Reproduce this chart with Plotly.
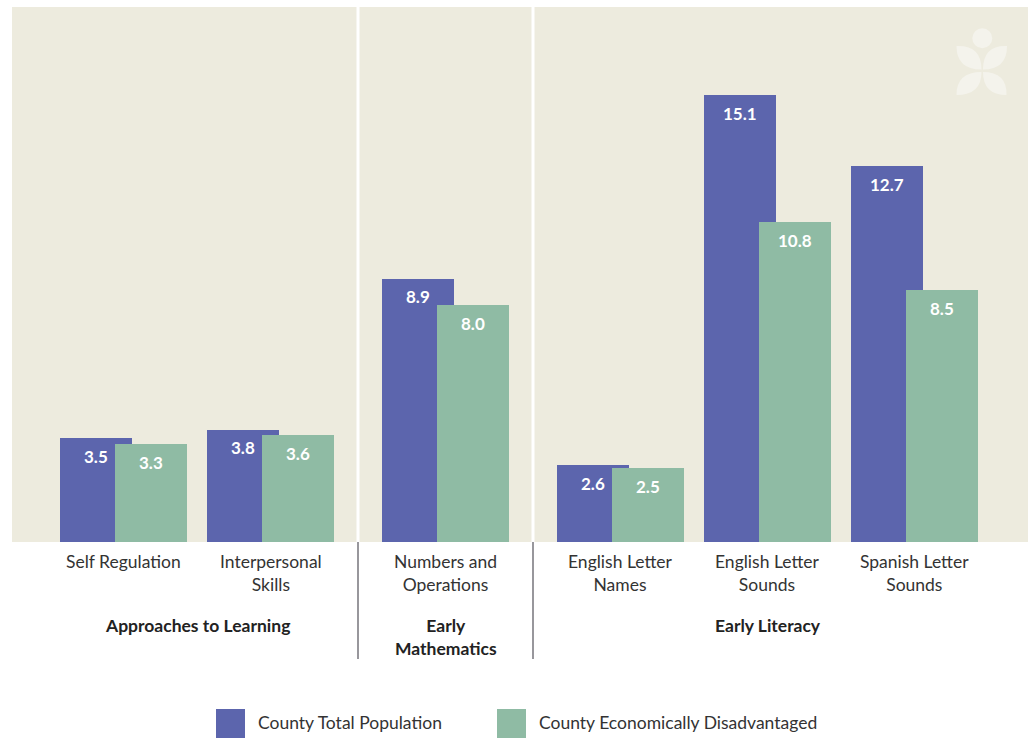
import plotly.graph_objects as go

# ---- data -------------------------------------------------------------
groups = ["Approaches to Learning", "Early<br>Mathematics", "Early Literacy"]
categories = [
    "Self Regulation",
    "Interpersonal<br>Skills",
    "Numbers and<br>Operations",
    "English Letter<br>Names",
    "English Letter<br>Sounds",
    "Spanish Letter<br>Sounds",
]
category_group = [0, 0, 1, 2, 2, 2]
series_names = ["County Total Population", "County Economically Disadvantaged"]
total_population = [3.5, 3.8, 8.9, 2.6, 15.1, 12.7]
econ_disadvantaged = [3.3, 3.6, 8.0, 2.5, 10.8, 8.5]

# ---- styling ----------------------------------------------------------
W, H = 1034, 738
ML, MR, MT, MB = 12, 6, 7, 196
PLOT_W = W - ML - MR
PLOT_H = H - MT - MB
BLUE = "#5C65AD"
GREEN = "#8FBBA4"
PANEL = "#EDEBDE"
FONT = "Lato"

STEP_IN = 147.0      # spacing between categories inside a group
STEP_OUT = 175.0     # spacing across a group boundary
FIRST = 111.5
BAR_W = 72
OFFSETS = [-63.5, -8.5]

# slot centres along the x axis
centres = [FIRST]
for i in range(1, len(categories)):
    same = category_group[i] == category_group[i - 1]
    centres.append(centres[-1] + (STEP_IN if same else STEP_OUT))

Y_MAX = PLOT_H / 29.6


def px_to_paper(px, py):
    return (px - ML) / PLOT_W, (H - MB - py) / PLOT_H


fig = go.Figure()
colors = [BLUE, GREEN]
for name, vals, col, off in zip(series_names, [total_population, econ_disadvantaged], colors, OFFSETS):
    fig.add_trace(go.Bar(
        x=centres, y=vals, name=name, width=BAR_W, offset=off,
        marker=dict(color=col, line=dict(width=0)),
        showlegend=False, hoverinfo="x+y",
    ))

annotations = []
shapes = []

# value labels inside the bar tops
for vals, off in zip([total_population, econ_disadvantaged], OFFSETS):
    for c, v in zip(centres, vals):
        annotations.append(dict(
            x=c + off + BAR_W / 2, y=v, xref="x", yref="y", yshift=-18,
            text=f"{v:.1f}", showarrow=False,
            font=dict(family=FONT, size=17, color="white", weight="bold"),
        ))

# category labels
for c, lab in zip(centres, categories):
    annotations.append(dict(
        x=c, y=0, xref="x", yref="paper", yanchor="top", yshift=-7,
        text=lab, showarrow=False, align="center",
        font=dict(family=FONT, size=17.5, color="#333333"),
    ))

# group labels and separators
for g, gname in enumerate(groups):
    members = [centres[i] for i in range(len(centres)) if category_group[i] == g]
    mid = (members[0] + members[-1]) / 2
    annotations.append(dict(
        x=mid, y=0, xref="x", yref="paper", yanchor="top", yshift=-71,
        text=f"<b>{gname}</b>", showarrow=False, align="center",
        font=dict(family=FONT, size=17.5, color="#222222"),
    ))
    if g > 0:
        prev_last = max(centres[i] for i in range(len(centres)) if category_group[i] == g - 1)
        sep = (prev_last + members[0]) / 2
        shapes.append(dict(type="line", xref="x", yref="paper", x0=sep, x1=sep, y0=0, y1=1,
                           line=dict(color="white", width=3), layer="above"))
        shapes.append(dict(type="line", xref="x", yref="paper", x0=sep, x1=sep, y0=0,
                           y1=px_to_paper(0, 659)[1],
                           line=dict(color="#98979C", width=2)))

# legend drawn as large swatches
legend_items = [(216, series_names[0], BLUE), (497, series_names[1], GREEN)]
for x0, name, col in legend_items:
    a0, b0 = px_to_paper(x0, 738)
    a1, b1 = px_to_paper(x0 + 29, 709)
    shapes.append(dict(type="rect", xref="paper", yref="paper", x0=a0, x1=a1, y0=b0, y1=b1,
                       fillcolor=col, line=dict(width=0)))
    tx, ty = px_to_paper(x0 + 40, 722.5)
    annotations.append(dict(
        x=tx, y=ty, xref="paper", yref="paper", xanchor="left", yanchor="middle",
        text=name, showarrow=False, font=dict(family=FONT, size=17.5, color="#333333"),
    ))

# flower emblem in the top-right corner
EMBLEM = "#F4F3EC"


def petal(p0, c1, p1, c2):
    pts = [px_to_paper(*p) for p in (p0, c1, p1, c2)]
    (a, b), (c, d), (e, f), (g, h) = pts
    return f"M {a},{b} Q {c},{d} {e},{f} Q {g},{h} {a},{b} Z"


petals = [
    ((981.5, 69.5), (981.5, 45), (956.5, 46), (956.5, 69.5)),
    ((983.0, 69.5), (983.0, 45), (1007.0, 46), (1007.0, 69.5)),
    ((981.5, 72.0), (956.5, 72.0), (956.5, 95), (981.5, 95)),
    ((983.0, 72.0), (1007.0, 72.0), (1006.5, 95), (983.0, 95)),
]
for p in petals:
    shapes.append(dict(type="path", xref="paper", yref="paper", path=petal(*p),
                       fillcolor=EMBLEM, line=dict(width=0), layer="below"))
hx0, hy0 = px_to_paper(972.3, 48.3)
hx1, hy1 = px_to_paper(992.3, 28.3)
shapes.append(dict(type="circle", xref="paper", yref="paper", x0=hx0, x1=hx1, y0=hy0, y1=hy1,
                   fillcolor=EMBLEM, line=dict(width=0), layer="below"))

fig.update_layout(
    width=W, height=H,
    margin=dict(l=ML, r=MR, t=MT, b=MB, pad=0),
    paper_bgcolor="white", plot_bgcolor=PANEL,
    barmode="overlay", bargap=0,
    xaxis=dict(range=[0, PLOT_W], showticklabels=False, showgrid=False, zeroline=False,
               fixedrange=True),
    yaxis=dict(range=[0, Y_MAX], showticklabels=False, showgrid=False, zeroline=False,
               fixedrange=True),
    annotations=annotations, shapes=shapes,
    font=dict(family=FONT),
)

fig.write_html("out.html")
